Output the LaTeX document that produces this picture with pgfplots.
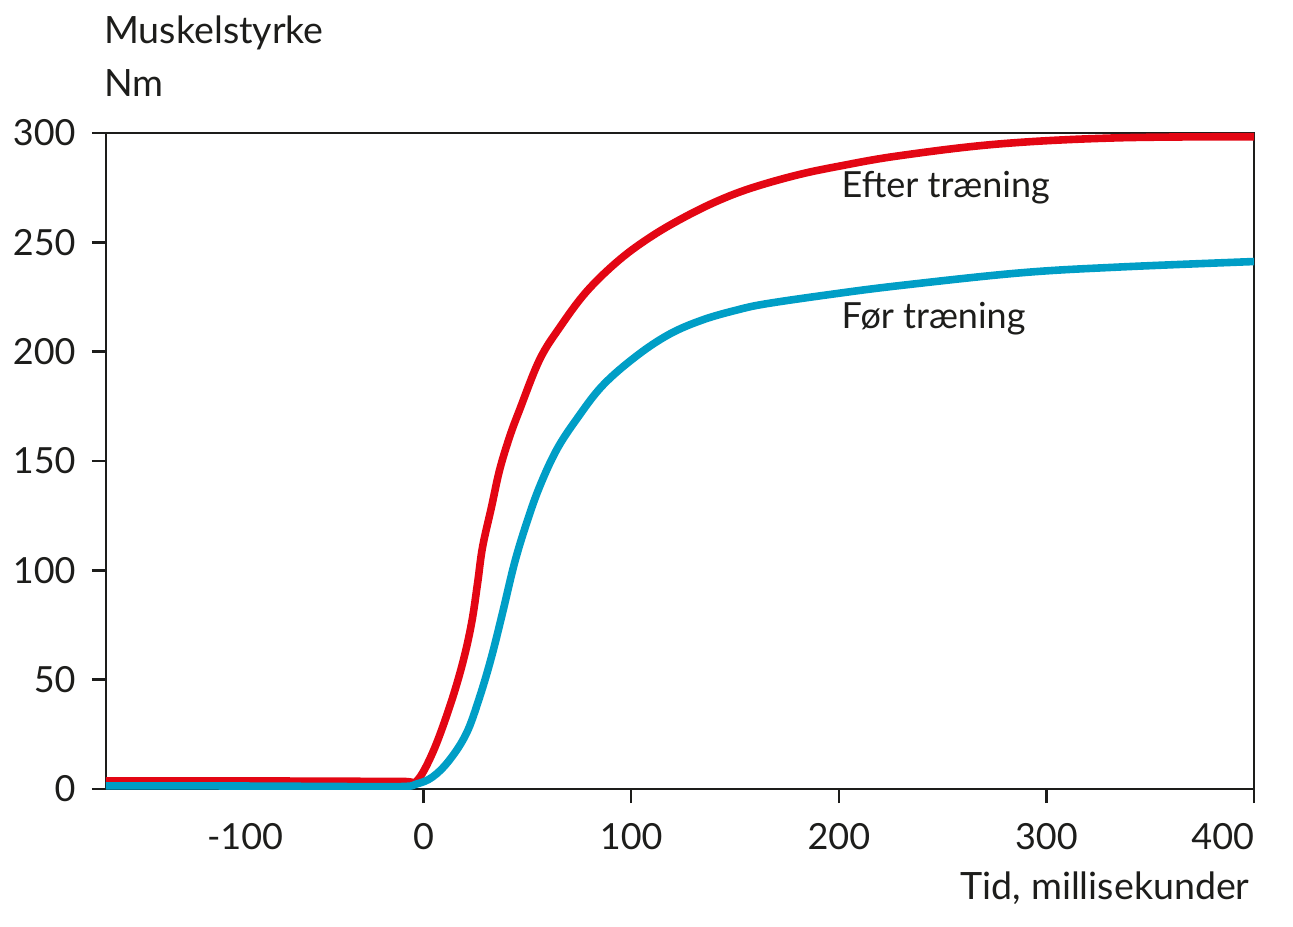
\documentclass[border=0pt]{standalone}
\usepackage{fontspec}
\setmainfont{Lato}
\usepackage{pgfplots}
\pgfplotsset{compat=1.18}
\definecolor{redc}{RGB}{227,6,19}
\definecolor{bluec}{RGB}{0,158,198}
\definecolor{ink}{RGB}{29,29,27}

\begin{document}
\fontsize{18}{22}\selectfont
\begin{tikzpicture}
\begin{axis}[
  name=ax,
  at={(0,0)}, anchor=south west,
  scale only axis, width=574pt, height=328pt,
  xmin=-153, xmax=400, ymin=0, ymax=300,
  axis line style={ink, line width=1.25pt},
  /pgf/number format/assume math mode=true,
  xtick={0,100,200,300,400},
  xticklabels={0,100,200,300,\makebox[0pt][r]{400}},
  extra x ticks={-86}, extra x tick labels={-100},
  extra x tick style={tick style={draw=none}},
  ytick={0,50,100,150,200,250,300},
  yticklabels={0,50,100,150,200,250,300},
  tick align=outside, xtick pos=bottom, ytick pos=left,
  major tick length=7pt,
  tick style={ink, line width=1.25pt},
  ticklabel style={text=ink},
  xticklabel style={yshift=-4pt},
  yticklabel style={xshift=-2pt},
]
\addplot[redc, line width=3.8pt, smooth, tension=0.6, line join=round] coordinates {
(-160,3.7) (-100,3.7) (-50,3.6) (-10,3.45) (-3.4,3.6) (4.3,16.5) (12.5,37.5) (18.8,57.6)
(23.1,75.9) (26,94.2) (28.4,110.7) (32.7,129) (36.6,145.9) (41.4,161)
(46.2,173.3) (55.8,196.2) (65.5,211) (78.5,227.5) (94.3,242) (110.2,253)
(126.6,262) (142.5,269.3) (158.4,275.0) (180,280.8) (200,284.8) (229.1,289.6) (277.3,295.0)
(335,297.8) (405,298.3)
};
\addplot[bluec, line width=3.8pt, smooth, tension=0.6, line join=round] coordinates {
(-160,1.4) (-100,1.4) (-50,1.2) (-11.6,1.1) (-3.4,2.3) (4.3,5.5) (12.5,13.3)
(20.7,25.6) (27,42.1) (32.7,60.4) (38,80.5) (43.8,103.4) (49.6,121.6)
(55.8,138.1) (64,155) (73.6,169) (86.2,184.5) (102.5,198) (118.4,208)
(134.3,214.5) (150.7,219) (165,221.9) (196.9,226.3) (229.1,230.2) (286.9,236.0)
(335,238.7) (405,241.4)
};
\node[anchor=base west, inner sep=0pt, text=ink] at (axis cs:201.2,270.7) {Efter træning};
\node[anchor=base west, inner sep=0pt, text=ink] at (axis cs:201.2,210.8) {Før træning};
\end{axis}
\begingroup\fontsize{18.8}{22}\selectfont
\node[anchor=base west, inner sep=0pt, text=ink] at ([xshift=-1pt, yshift=44.5pt]ax.north west) {Muskelstyrke};
\node[anchor=base west, inner sep=0pt, text=ink] at ([xshift=-1pt, yshift=18pt]ax.north west) {Nm};
\node[anchor=base east, inner sep=0pt, text=ink] at ([xshift=-2pt, yshift=-55pt]ax.south east) {Tid, millisekunder};
\endgroup
\pgfresetboundingbox
\path (-53pt,-68.5pt) rectangle (593.5pt,394.5pt);
\end{tikzpicture}
\end{document}
